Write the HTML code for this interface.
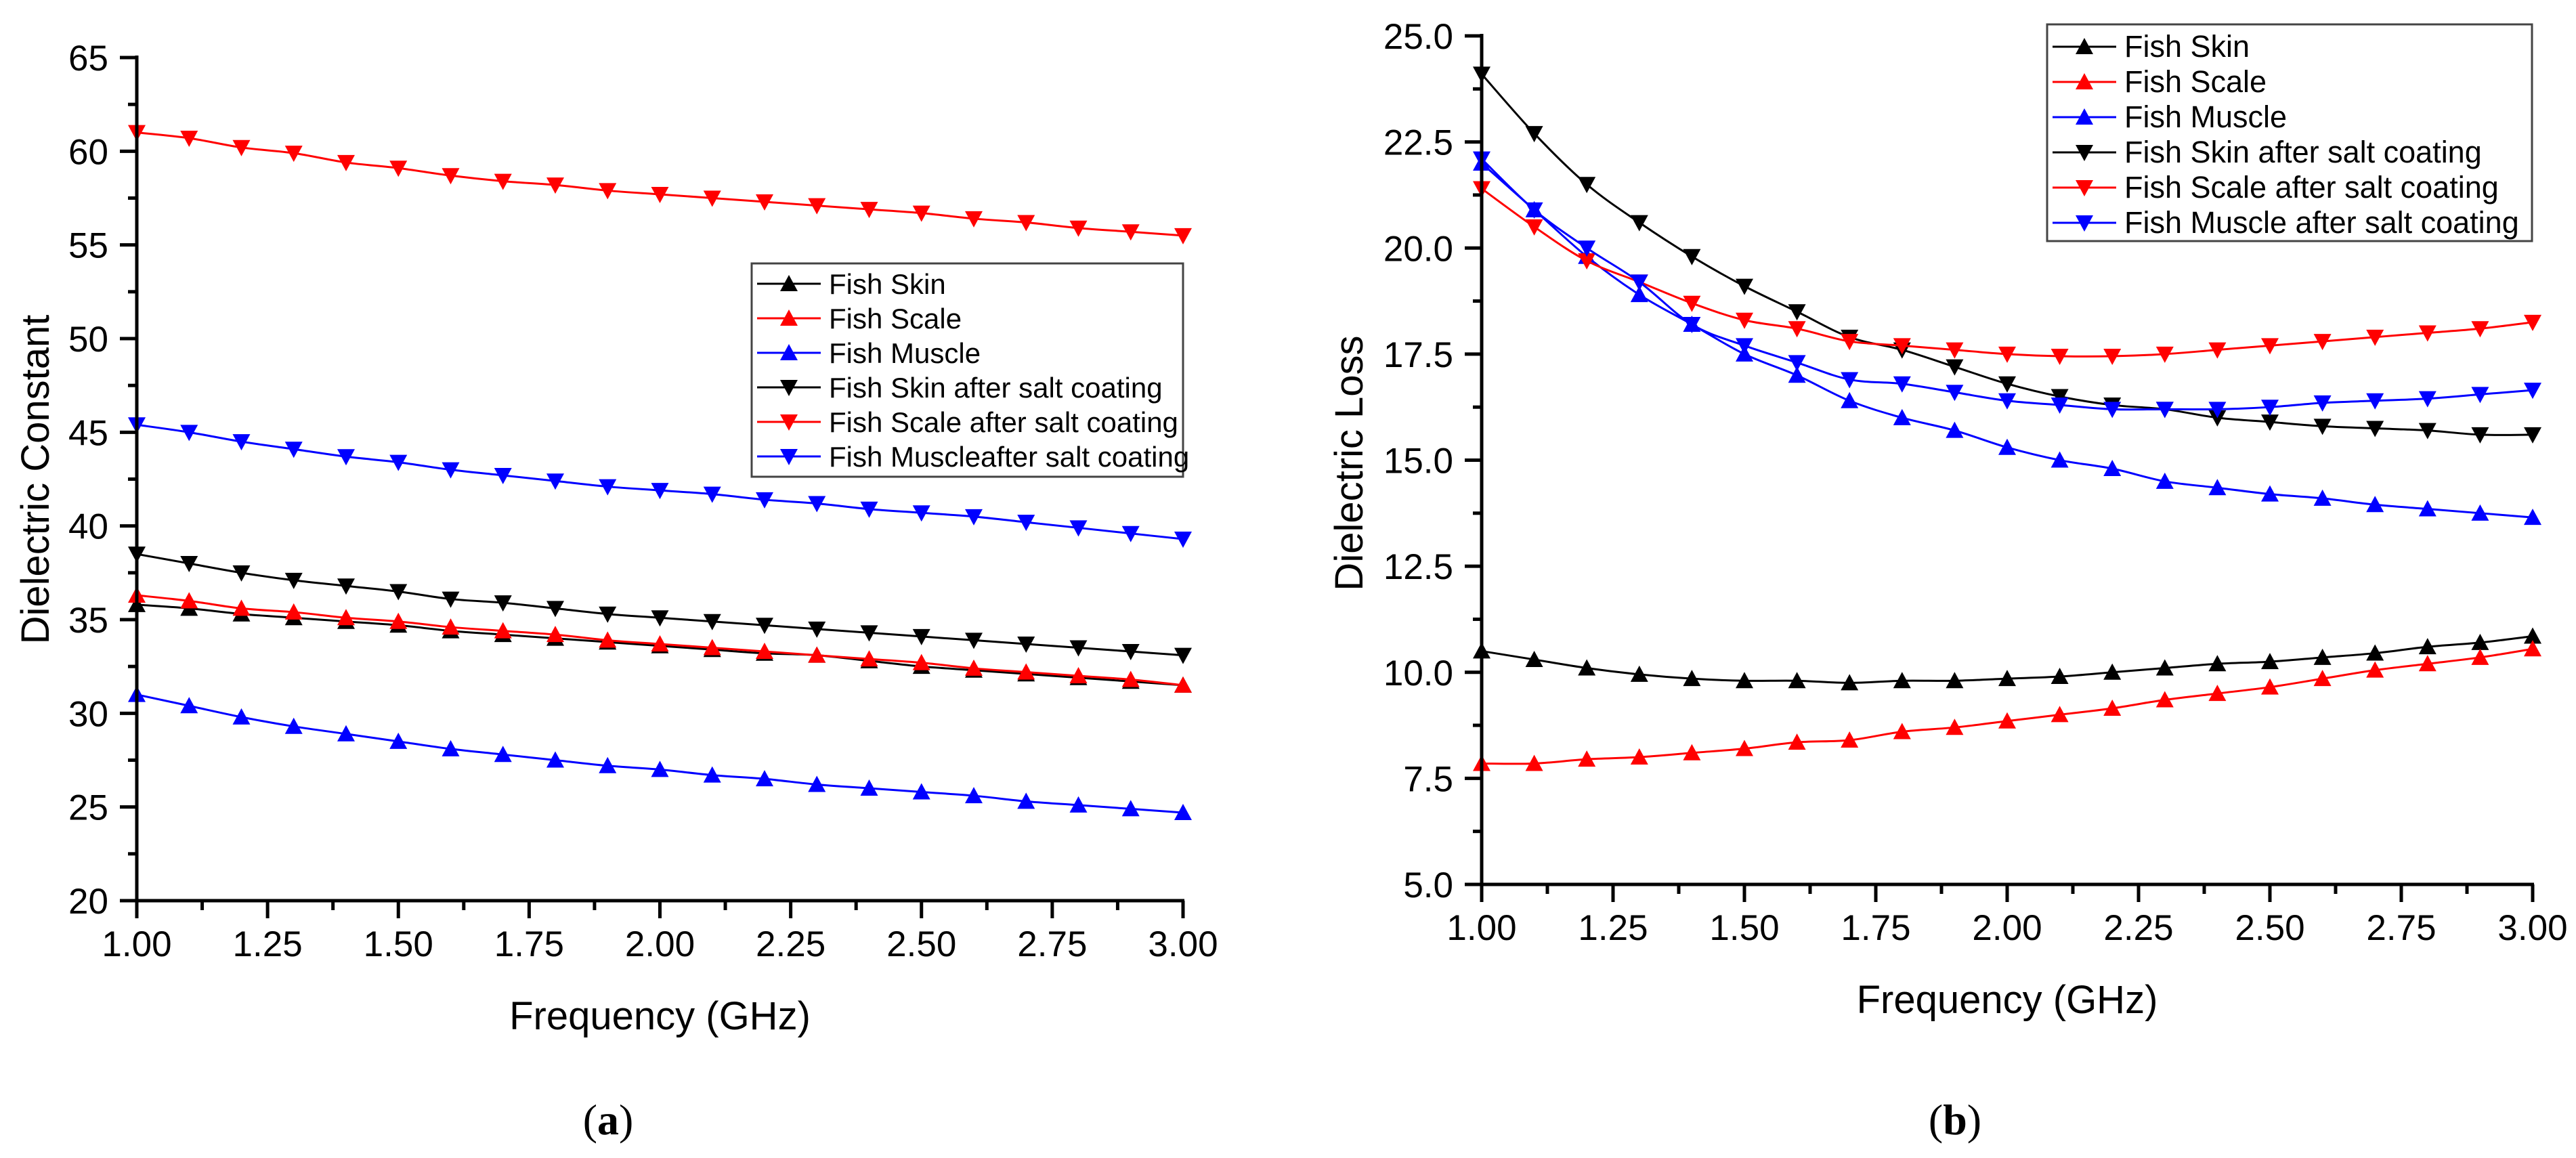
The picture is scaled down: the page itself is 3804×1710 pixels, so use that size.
<!DOCTYPE html>
<html><head><meta charset="utf-8"><style>
html,body{margin:0;padding:0;background:#fff;}
svg{display:block;font-family:"Liberation Sans",Arial,sans-serif;}
</style></head><body>
<svg id="fig" width="3804" height="1710" viewBox="0 0 3804 1710"></svg>
<script>
const freqs = [1.0,1.1,1.2,1.3,1.4,1.5,1.6,1.7,1.8,1.9,2.0,2.1,2.2,2.3,2.4,2.5,2.6,2.7,2.8,2.9,3.0];
const xTicks = [1.00,1.25,1.50,1.75,2.00,2.25,2.50,2.75,3.00];
const seriesNames = ["Fish Skin","Fish Scale","Fish Muscle","Fish Skin after salt coating","Fish Scale after salt coating","Fish Muscle after salt coating"];
const legendNamesA = ["Fish Skin","Fish Scale","Fish Muscle","Fish Skin after salt coating","Fish Scale after salt coating","Fish Muscleafter salt coating"];
const seriesColors = ["#000","#f00","#00f","#000","#f00","#00f"];
const seriesUp = [true,true,true,false,false,false];

// Panel (a) dielectric constant
const aSkin = [35.8,35.6,35.3,35.1,34.9,34.7,34.4,34.2,34.0,33.8,33.6,33.4,33.2,33.1,32.8,32.5,32.3,32.1,31.9,31.7,31.5];
const aScale = [36.3,36.0,35.6,35.4,35.1,34.9,34.6,34.4,34.2,33.9,33.7,33.5,33.3,33.1,32.9,32.7,32.4,32.2,32.0,31.8,31.5];
const aMuscle = [31.0,30.4,29.8,29.3,28.9,28.5,28.1,27.8,27.5,27.2,27.0,26.7,26.5,26.2,26.0,25.8,25.6,25.3,25.1,24.9,24.7];
const aSkinSalt = [38.5,38.0,37.5,37.1,36.8,36.5,36.1,35.9,35.6,35.3,35.1,34.9,34.7,34.5,34.3,34.1,33.9,33.7,33.5,33.3,33.1];
const aScaleSalt = [61.0,60.7,60.2,59.9,59.4,59.1,58.7,58.4,58.2,57.9,57.7,57.5,57.3,57.1,56.9,56.7,56.4,56.2,55.9,55.7,55.5];
const aMuscleSalt = [45.4,45.0,44.5,44.1,43.7,43.4,43.0,42.7,42.4,42.1,41.9,41.7,41.4,41.2,40.9,40.7,40.5,40.2,39.9,39.6,39.3];
const aYTicks = [20,25,30,35,40,45,50,55,60,65];

// Panel (b) dielectric loss
const bSkin = [10.5,10.3,10.1,9.95,9.85,9.8,9.8,9.75,9.8,9.8,9.85,9.9,10.0,10.1,10.2,10.25,10.35,10.45,10.6,10.7,10.85];
const bScale = [7.85,7.85,7.95,8.0,8.1,8.2,8.35,8.4,8.6,8.7,8.85,9.0,9.15,9.35,9.5,9.65,9.85,10.05,10.2,10.35,10.55];
const bMuscle = [22.0,20.9,19.8,18.9,18.2,17.5,17.0,16.4,16.0,15.7,15.3,15.0,14.8,14.5,14.35,14.2,14.1,13.95,13.85,13.75,13.65];
const bSkinSalt = [24.1,22.7,21.5,20.6,19.8,19.1,18.5,17.9,17.6,17.2,16.8,16.5,16.3,16.2,16.0,15.9,15.8,15.75,15.7,15.6,15.6];
const bScaleSalt = [21.4,20.5,19.7,19.2,18.7,18.3,18.1,17.8,17.7,17.6,17.5,17.45,17.45,17.5,17.6,17.7,17.8,17.9,18.0,18.1,18.25];
const bMuscleSalt = [22.1,20.9,20.0,19.2,18.2,17.7,17.3,16.9,16.8,16.6,16.4,16.3,16.2,16.2,16.2,16.25,16.35,16.4,16.45,16.55,16.65];
const bYTicks = [5.0,7.5,10.0,12.5,15.0,17.5,20.0,22.5,25.0];

const NS="http://www.w3.org/2000/svg";
const svg=document.getElementById('fig');
function mk(tag,attrs,parent){const e=document.createElementNS(NS,tag);for(const k in attrs)e.setAttribute(k,attrs[k]);(parent||svg).appendChild(e);return e;}

function panel(cfg){
  const g=mk('g',{});
  
  
  const X=v=>cfg.x0+(v-1)/(2)*(cfg.x1-cfg.x0);
  const Y=v=>cfg.yb-(v-cfg.ymin)/(cfg.ymax-cfg.ymin)*(cfg.yb-cfg.yt);
  cfg.data.forEach((vals,i)=>{
    const sg=mk('g',{},g);
    
    
    const pts=freqs.map((f,j)=>[X(f),Y(vals[j])]);
    let d='M'+pts[0][0]+','+pts[0][1];
    for(let j=0;j<pts.length-1;j++){
      const p0=pts[Math.max(0,j-1)],p1=pts[j],p2=pts[j+1],p3=pts[Math.min(pts.length-1,j+2)];
      const c1=[p1[0]+(p2[0]-p0[0])/6,p1[1]+(p2[1]-p0[1])/6];
      const c2=[p2[0]-(p3[0]-p1[0])/6,p2[1]-(p3[1]-p1[1])/6];
      d+=' C'+c1+' '+c2+' '+p2;
    }
    const ln=mk('path',{d:d,fill:'none',stroke:seriesColors[i],'stroke-width':3},sg);
    
    
    pts.forEach(p=>{
      const m=mk('path',{d:tri(p[0],p[1],seriesUp[i]),fill:seriesColors[i]},sg);
      
      
    });
  });
  const ax=mk('g',{stroke:'#000','stroke-width':5,fill:'none'},g);
  
  
  mk('line',{x1:cfg.x0,y1:cfg.yt-3,x2:cfg.x0,y2:cfg.yb+2},ax);
  mk('line',{x1:cfg.x0-2,y1:cfg.yb,x2:cfg.x1+2,y2:cfg.yb},ax);
  const yt=cfg.yTicks;
  yt.forEach((v,k)=>{
    mk('line',{x1:cfg.x0-25,y1:Y(v),x2:cfg.x0,y2:Y(v)},ax);
    if(k<yt.length-1){const m=(v+yt[k+1])/2;mk('line',{x1:cfg.x0-13,y1:Y(m),x2:cfg.x0,y2:Y(m)},ax);}
    const t=mk('text',{x:cfg.x0-42,y:Y(v)+19,'text-anchor':'end','font-size':53,fill:'#000',stroke:'none'},g);
    t.textContent=cfg.yFmt(v);
    
    
  });
  xTicks.forEach((v,k)=>{
    mk('line',{x1:X(v),y1:cfg.yb,x2:X(v),y2:cfg.yb+26},ax);
    if(k<xTicks.length-1){const m=(v+xTicks[k+1])/2;mk('line',{x1:X(m),y1:cfg.yb,x2:X(m),y2:cfg.yb+14},ax);}
    const t=mk('text',{x:X(v),y:cfg.yb+82,'text-anchor':'middle','font-size':53,fill:'#000'},g);
    t.textContent=v.toFixed(2);
    
    
  });
  const xt=mk('text',{x:(cfg.x0+cfg.x1)/2,y:cfg.yb+190,'text-anchor':'middle','font-size':58,fill:'#000'},g);
  xt.textContent='Frequency (GHz)';
  
  
  const ytt=mk('text',{x:cfg.ytx,y:cfg.yty,'text-anchor':'middle','font-size':58,fill:'#000',transform:'rotate(-90 '+cfg.ytx+' '+cfg.yty+')'},g);
  ytt.textContent=cfg.yTitle;
  
  
  const lg=mk('g',{},g);
  
  
  mk('rect',{x:cfg.lx,y:cfg.ly,width:cfg.lw,height:cfg.lh,fill:'#fff',stroke:'#444','stroke-width':3},lg);
  cfg.legendNames.forEach((n,i)=>{
    const e=mk('g',{},lg);
    
    
    const cy=cfg.ly+cfg.lpad+i*cfg.lstep;
    mk('line',{x1:cfg.lx+8,y1:cy,x2:cfg.lx+102,y2:cy,stroke:seriesColors[i],'stroke-width':3},e);
    mk('path',{d:tri(cfg.lx+55,cy,seriesUp[i]),fill:seriesColors[i]},e);
    const t=mk('text',{x:cfg.lx+114,y:cy+15,'font-size':cfg.lfs,fill:'#000'},e);
    t.textContent=n;
  });
  const cap=mk('text',{x:cfg.capx,y:1675,'text-anchor':'middle','font-size':64,fill:'#000','font-family':'"Liberation Serif",serif'},g);
  cap.innerHTML='(<tspan font-weight="bold">'+cfg.cap+'</tspan>)';
  
  
}
function tri(x,y,up){const h=11;return up?`M${x-13},${y+h} L${x+13},${y+h} L${x},${y-13} Z`:`M${x-13},${y-h} L${x+13},${y-h} L${x},${y+13} Z`;}

panel({name:'chart-dielectric-constant',x0:202,x1:1747,yt:85,yb:1330,ymin:20,ymax:65,yTicks:aYTicks,yFmt:v=>String(v),
  data:[aSkin,aScale,aMuscle,aSkinSalt,aScaleSalt,aMuscleSalt],yTitle:'Dielectric Constant',ytx:72,yty:708,
  legendNames:legendNamesA,lx:1110,ly:389,lw:637,lh:315,lpad:30,lstep:51,lfs:42,capx:898,cap:'a'});
panel({name:'chart-dielectric-loss',x0:2188,x1:3740,yt:53,yb:1306,ymin:5,ymax:25,yTicks:bYTicks,yFmt:v=>v.toFixed(1),
  data:[bSkin,bScale,bMuscle,bSkinSalt,bScaleSalt,bMuscleSalt],yTitle:'Dielectric Loss',ytx:2012,yty:684,
  legendNames:seriesNames,lx:3023,ly:36,lw:716,lh:320,lpad:33,lstep:52,lfs:45,capx:2887,cap:'b'});
</script>
</body></html>
